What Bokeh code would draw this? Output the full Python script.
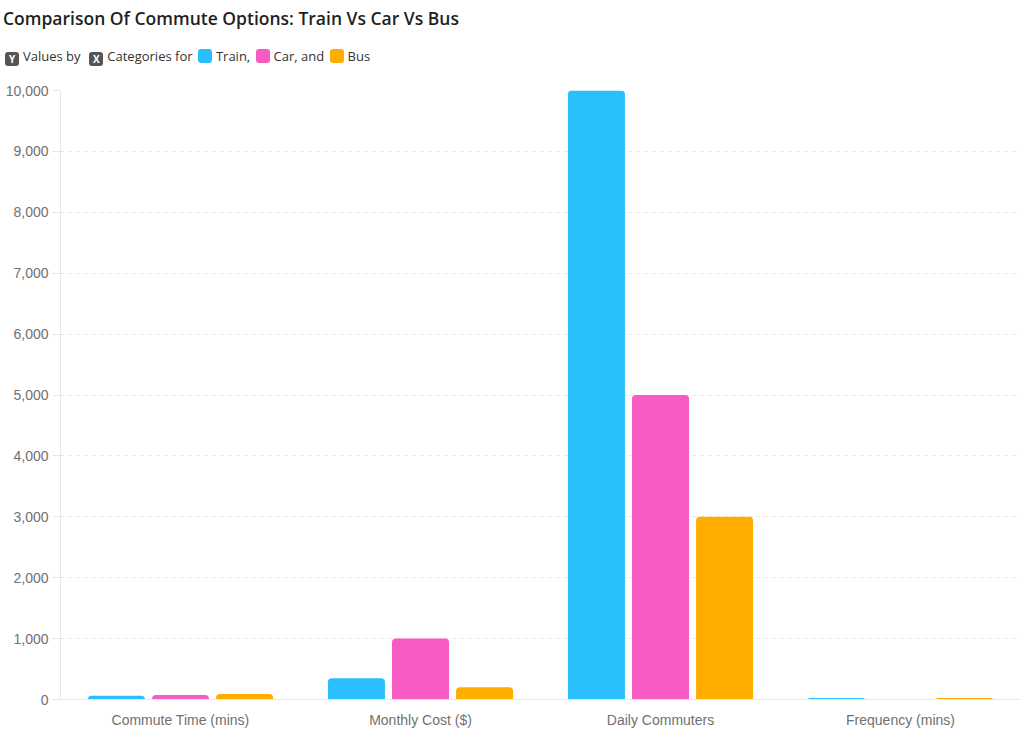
from bokeh.plotting import figure
from bokeh.layouts import column
from bokeh.models import Div, NumeralTickFormatter, FixedTicker
from bokeh.transform import dodge
from bokeh.embed import file_html
from bokeh.resources import INLINE

# data
categories = ["Commute Time (mins)", "Monthly Cost ($)", "Daily Commuters", "Frequency (mins)"]
train = [60, 350, 10000, 25]
car = [75, 1000, 5000, 0]
bus = [90, 200, 3000, 25]
y_ticks = [0, 1000, 2000, 3000, 4000, 5000, 6000, 7000, 8000, 9000, 10000]

colors = {"Train": "#29bffc", "Car": "#f95bc5", "Bus": "#ffae00"}

title = Div(
    text='<div style="padding:8px 0 0 3px;font-family:\'Open Sans\';font-weight:600;'
         'font-size:17.5px;line-height:20px;color:#1f1f1f;white-space:nowrap">'
         'Comparison Of Commute Options: Train Vs Car Vs Bus</div>',
    width=1000, height=30, margin=(0, 0, 0, 0),
)


def chip(bg, letter=""):
    return ('<span style="display:inline-block;width:14px;height:14px;border-radius:3px;'
            f'background:{bg};color:#fff;font-size:10px;font-weight:700;line-height:14px;'
            f'text-align:center;vertical-align:-2px;margin:0 4px 0 2px">{letter}</span>')


legend_html = (
    '<div style="padding:17px 0 0 3px;font-family:\'Open Sans\';font-size:13px;'
    'line-height:18px;color:#333;white-space:nowrap">'
    + chip("#555555", "Y") + 'Values by&nbsp; '
    + chip("#555555", "X") + 'Categories for '
    + chip(colors["Train"]) + 'Train, '
    + chip(colors["Car"]) + 'Car, and '
    + chip(colors["Bus"]) + 'Bus</div>'
)
legend = Div(text=legend_html, width=1000, height=42, margin=(0, 0, 0, 0))

p = figure(
    x_range=categories, y_range=(0, 10000),
    width=1024, height=658,
    output_backend="svg", toolbar_location=None,
    min_border_left=60, min_border_right=4, min_border_top=18, min_border_bottom=30,
)
p.outline_line_color = None
p.background_fill_color = "white"
p.border_fill_color = "white"

src = dict(cat=categories, Train=train, Car=car, Bus=bus)
offsets = {"Train": -0.267, "Car": 0.0, "Bus": 0.267}
for name in ["Train", "Car", "Bus"]:
    p.vbar(x=dodge("cat", offsets[name], range=p.x_range), top=name, source=src,
           width=0.2375, fill_color=colors[name], line_color=None,
           border_radius=(4, 4, 0, 0))

# y axis
p.yaxis.ticker = FixedTicker(ticks=y_ticks)
p.yaxis.formatter = NumeralTickFormatter(format="0,0")
p.yaxis.axis_line_color = "#e6e6e6"
p.yaxis.major_tick_out = 8
p.yaxis.major_tick_in = 0
p.yaxis.major_tick_line_color = "#e6e6e6"
p.yaxis.minor_tick_line_color = None
p.yaxis.major_label_standoff = 4
p.yaxis.major_label_text_font = "Liberation Sans"
p.yaxis.major_label_text_font_size = "14px"
p.yaxis.major_label_text_color = "#707070"

# x axis
p.xaxis.axis_line_color = "#e6e6e6"
p.xaxis.major_tick_line_color = None
p.xaxis.minor_tick_line_color = None
p.xaxis.major_label_standoff = 6
p.xaxis.major_label_text_font = "Liberation Sans"
p.xaxis.major_label_text_font_size = "14px"
p.xaxis.major_label_text_color = "#707070"

p.xgrid.grid_line_color = None
p.ygrid.grid_line_color = "#e6e6e6"
p.ygrid.grid_line_dash = "4 4"

layout = column(title, legend, p, spacing=0)

open("out.html", "w").write(file_html(layout, INLINE))
